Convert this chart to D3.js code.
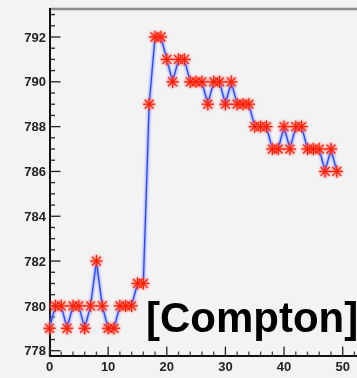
<!DOCTYPE html>
<html>
<head>
<meta charset="utf-8">
<script src="https://cdn.jsdelivr.net/npm/d3@7"></script>
<style>
  html, body { margin: 0; padding: 0; background: #f3f3f3; }
  svg { display: block; }
</style>
</head>
<body>
<script>
// Measurement index and recorded peak position per entry
const entryIndex = [0, 1, 2, 3, 4, 5, 6, 7, 8, 9,
                    10, 11, 12, 13, 14, 15, 16, 17, 18, 19,
                    20, 21, 22, 23, 24, 25, 26, 27, 28, 29,
                    30, 31, 32, 33, 34, 35, 36, 37, 38, 39,
                    40, 41, 42, 43, 44, 45, 46, 47, 48, 49];
const peakValue = [779, 780, 780, 779, 780, 780, 779, 780, 782, 780,
                   779, 779, 780, 780, 780, 781, 781, 789, 792, 792,
                   791, 790, 791, 791, 790, 790, 790, 789, 790, 790,
                   789, 790, 789, 789, 789, 788, 788, 788, 787, 787,
                   788, 787, 788, 788, 787, 787, 787, 786, 787, 786];
const xMajorTicks = [0, 10, 20, 30, 40, 50];
const yMajorTicks = [778, 780, 782, 784, 786, 788, 790, 792];
const labelText = "[Compton]";

const W = 357, H = 378;
const frameLeft = 50, frameTop = 9, frameBottom = 356, frameRight = 400;

const svg = d3.select("body").append("svg")
  .attr("width", W).attr("height", H);

svg.append("rect").attr("width", W).attr("height", H).attr("fill", "#f3f3f3");

const x = d3.scaleLinear().domain([0, 50]).range([49.5, 342.7]);
const y = d3.scaleLinear().domain([778, 792]).range([350.7, 37]);

const defs = svg.append("defs");
defs.append("filter").attr("id", "soft")
  .attr("x", "-50%").attr("y", "-50%").attr("width", "200%").attr("height", "200%")
  .append("feGaussianBlur").attr("stdDeviation", 0.9);
defs.append("filter").attr("id", "textsoft")
  .append("feGaussianBlur").attr("stdDeviation", 0.35);

// top frame line
svg.append("line")
  .attr("x1", frameLeft).attr("x2", frameRight)
  .attr("y1", frameTop).attr("y2", frameTop)
  .attr("stroke", "#8c8c8c").attr("stroke-width", 2.4);

// y-axis ticks (inside the frame): major every 2, minor every 0.5
const yMinor = d3.range(777.5, 793.5, 0.5).filter(v => y(v) > frameTop + 2 && y(v) < frameBottom - 1);
const gy = svg.append("g").attr("transform", `translate(${frameLeft},0)`);
gy.selectAll("line.tick").data(yMinor).join("line")
  .attr("class", "tick")
  .attr("x1", 0).attr("x2", v => (yMajorTicks.includes(v) ? 10.5 : 5))
  .attr("y1", v => y(v)).attr("y2", v => y(v))
  .attr("stroke", "#222").attr("stroke-width", 1.3);
gy.append("line")
  .attr("x1", 0).attr("x2", 0).attr("y1", frameTop - 1).attr("y2", frameBottom)
  .attr("stroke", "#111").attr("stroke-width", 2);

// y tick labels
svg.append("g").attr("filter", "url(#textsoft)")
  .selectAll("text").data(yMajorTicks).join("text")
  .attr("x", frameLeft - 4).attr("y", v => y(v))
  .attr("dy", "0.36em")
  .attr("text-anchor", "end")
  .attr("font-family", "Liberation Sans, Arial, sans-serif")
  .attr("font-weight", "bold").attr("font-size", 13)
  .attr("fill", "#222")
  .text(v => v);

// x-axis ticks (upward into the frame): major every 10, minor every 2
const xTicks = d3.range(0, 62, 2);
const gx = svg.append("g").attr("transform", `translate(0,${frameBottom})`);
gx.selectAll("line").data(xTicks).join("line")
  .attr("x1", v => x(v)).attr("x2", v => x(v))
  .attr("y1", 0).attr("y2", v => (v % 10 === 0 ? -9.5 : -4.5))
  .attr("stroke", v => (v % 10 === 0 ? "#222" : "#444"))
  .attr("stroke-width", 1.3);
gx.append("line")
  .attr("x1", frameLeft - 1).attr("x2", frameRight).attr("y1", 0).attr("y2", 0)
  .attr("stroke", "#111").attr("stroke-width", 2);

svg.append("g").attr("filter", "url(#textsoft)")
  .selectAll("text").data(xMajorTicks).join("text")
  .attr("x", v => x(v)).attr("y", 370.5)
  .attr("text-anchor", "middle")
  .attr("font-family", "Liberation Sans, Arial, sans-serif")
  .attr("font-weight", "bold").attr("font-size", 13)
  .attr("fill", "#222")
  .text(v => v);

// data series
const pts = entryIndex.map((d, i) => [d, peakValue[i]]);
const line = d3.line().x(d => x(d[0])).y(d => y(d[1]));

svg.append("path").datum(pts)
  .attr("d", line).attr("fill", "none")
  .attr("stroke", "#8898ff").attr("stroke-width", 3)
  .attr("stroke-opacity", 0.8)
  .attr("filter", "url(#soft)");
svg.append("path").datum(pts)
  .attr("d", line).attr("fill", "none")
  .attr("stroke", "#2a46ff").attr("stroke-width", 1.3);

// asterisk markers
const r = 6.2;
const star = (g) => {
  const segs = [[-r, 0, r, 0], [0, -r, 0, r],
                [-r * 0.72, -r * 0.72, r * 0.72, r * 0.72],
                [-r * 0.72, r * 0.72, r * 0.72, -r * 0.72]];
  segs.forEach(s => g.append("line")
    .attr("x1", s[0]).attr("y1", s[1]).attr("x2", s[2]).attr("y2", s[3]));
};
const halo = svg.append("g").attr("filter", "url(#soft)")
  .attr("stroke", "#ff7070").attr("stroke-width", 2.6).attr("stroke-opacity", 0.7);
const core = svg.append("g")
  .attr("stroke", "#ff1f00").attr("stroke-width", 1.2);
pts.forEach(p => {
  star(halo.append("g").attr("transform", `translate(${x(p[0])},${y(p[1])})`));
  star(core.append("g").attr("transform", `translate(${x(p[0])},${y(p[1])})`));
});

// annotation
svg.append("text")
  .attr("x", 146).attr("y", 331.5)
  .attr("font-family", "Liberation Sans, Arial, sans-serif")
  .attr("font-weight", "bold").attr("font-size", 42)
  .attr("fill", "#000")
  .text(labelText);
</script>
</body>
</html>
